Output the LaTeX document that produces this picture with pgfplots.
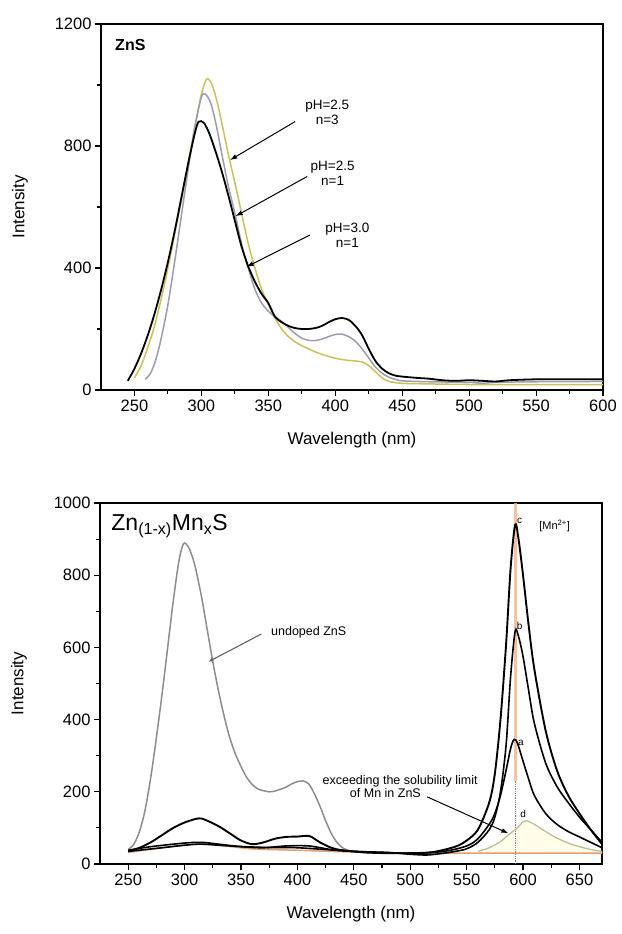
\documentclass[border=0pt]{standalone}
\usepackage{fontspec}
\setmainfont{Liberation Sans}
\usepackage{pgfplots}
\pgfplotsset{compat=1.18}
\usetikzlibrary{arrows.meta}
\definecolor{lavgray}{HTML}{9D9BB0}
\definecolor{olive}{HTML}{CDBF5C}
\definecolor{midgray}{HTML}{8C8C8C}
\definecolor{mnorange}{HTML}{F2B48A}
\definecolor{tan}{HTML}{E0A070}
\definecolor{paled}{HTML}{BDBD90}

\pgfplotsset{
  spec/.style={
    scale only axis, width=502pt,
    axis line style={line width=1.4pt},
    tick align=outside, xtick pos=bottom, ytick pos=left,
    tick style={black, line width=1.1pt},
    major tick length=6pt, minor tick length=4pt,
    minor tick num=1,
    ticklabel style={font=\fontsize{16.5}{18}\selectfont},
    /pgf/number format/assume math mode=true,
    /pgf/number format/1000 sep={},
    xlabel={Wavelength (nm)}, ylabel={Intensity},
    every axis x label/.style={at={(axis description cs:0.5,0)}, yshift=-50pt,
      anchor=center, font=\fontsize{17}{20}\selectfont},
    every axis y label/.style={at={(axis description cs:0,0.5)}, xshift=-81pt,
      rotate=90, anchor=center, font=\fontsize{17}{20}\selectfont},
    clip=false,
  },
}
\tikzset{
  ann/.style={font=\fontsize{13.5}{15}\selectfont, align=center},
  arr/.style={black, line width=1pt, -{Latex[length=7pt,width=5pt]}},
}

\begin{document}
\begin{tikzpicture}
\useasboundingbox (0,0) rectangle (621pt,934pt);

% ---- top: ZnS
\begin{axis}[spec, at={(101pt,544pt)}, anchor=south west, height=366pt,
    xmin=225, xmax=600, ymin=0, ymax=1200,
    xtick={250,300,...,600}, ytick={0,400,800,1200}]

\addplot[olive, line width=1.5pt, smooth] coordinates {
 (250,40)(255,80)(260,140)(265,210)(270,300)(275,400)(280,510)(285,620)(290,740)
 (295,860)(300,970)(304,1020)(308,1000)(312,940)(316,860)(320,775)(325,680)(330,580)
 (335,480)(340,400)(345,330)(350,280)(355,235)(360,200)(365,175)(370,158)(375,145)
 (380,135)(385,125)(390,117)(395,110)(400,104)(405,100)(410,97)(415,95)(420,92)
 (425,80)(430,60)(435,40)(440,28)(450,22)(470,20)(500,18)(550,18)(600,18)};

\addplot[lavgray, line width=1.5pt, smooth] coordinates {
 (258,35)(262,55)(266,100)(270,170)(275,280)(280,420)(285,570)(290,720)(295,860)
 (300,960)(303,970)(307,940)(311,870)(315,780)(320,670)(325,580)(330,480)(335,400)
 (340,330)(345,285)(350,258)(355,240)(360,225)(365,205)(370,185)(375,170)(380,163)
 (385,162)(390,167)(395,175)(400,182)(405,183)(410,175)(415,160)(420,135)(425,105)
 (430,75)(435,55)(440,42)(445,35)(450,30)(470,27)(500,25)(510,22)(520,25)(550,27)(600,28)};

\addplot[black, line width=1.8pt, smooth] coordinates {
 (245,30)(250,70)(255,120)(260,180)(265,250)(270,330)(275,420)(280,520)(285,630)
 (290,740)(295,840)(298,880)(302,875)(306,840)(310,790)(315,720)(320,640)(325,555)
 (330,470)(335,405)(340,355)(345,315)(350,285)(355,240)(360,222)(365,210)(370,203)
 (375,200)(380,200)(385,203)(390,210)(395,222)(400,232)(405,236)(410,230)(415,210)
 (420,180)(425,135)(430,95)(435,70)(440,55)(445,47)(450,44)(460,40)(470,37)(480,32)
 (490,30)(500,32)(510,30)(520,28)(530,32)(550,35)(575,35)(600,35)};

\node[font=\bfseries\fontsize{16}{18}\selectfont, anchor=west] at (axis cs:233,1130) {ZnS};

\node[ann] at (axis cs:394,909) {pH=2.5\\n=3};
\node[ann] at (axis cs:398,711) {pH=2.5\\n=1};
\node[ann] at (axis cs:409,508) {pH=3.0\\n=1};
\draw[arr] (axis cs:370,880) -- (axis cs:321.4,754);
\draw[arr] (axis cs:379,700) -- (axis cs:325.6,570);
\draw[arr] (axis cs:381,508) -- (axis cs:333.8,404);
\end{axis}

% ---- bottom: Zn(1-x)MnxS
\begin{axis}[spec, at={(100pt,70pt)}, anchor=south west, height=361pt,
    xmin=225, xmax=670, ymin=0, ymax=1000,
    xtick={250,300,...,650}, ytick={0,200,...,1000}]

% pale area under d
\addplot[draw=none, fill=yellow!8] coordinates {
 (560,32)(570,45)(580,62)(585,75)(590,88)(595,100)(600,117)(603,120)(610,110)
 (620,90)(630,72)(640,58)(650,48)(660,40)(670,35)(670,30)(560,30)} -- cycle;

% Mn2+ marker line
\addplot[mnorange, line width=3pt, opacity=0.8] coordinates {(593,230)(593,1000)};
\addplot[gray, densely dotted, line width=0.8pt] coordinates {(593,0)(593,230)};

\addplot[midgray, line width=1.5pt, smooth] coordinates {
 (250,40)(255,55)(260,90)(265,150)(270,240)(275,350)(280,470)(285,600)(290,730)
 (295,840)(299,887)(303,880)(307,850)(310,815)(315,740)(320,650)(325,560)(330,480)
 (335,410)(340,350)(345,305)(350,270)(355,240)(360,220)(365,208)(370,203)(375,200)
 (380,202)(385,207)(390,213)(395,222)(400,228)(405,230)(410,222)(415,195)(420,160)
 (425,120)(430,85)(435,60)(440,45)(445,38)(450,35)(460,32)(480,30)(500,30)};

\addplot[tan, line width=1.5pt, smooth] coordinates {
 (250,32)(280,45)(310,55)(330,52)(360,42)(400,38)(450,33)(500,30)(560,30)(620,30)(670,30)};

\addplot[paled, line width=1.3pt, smooth] coordinates {
 (560,35)(570,45)(580,62)(585,75)(590,88)(595,100)(600,117)(603,120)(610,110)
 (620,90)(630,72)(640,58)(650,48)(660,40)(670,35)};

% a
\addplot[black, line width=1.6pt, smooth] coordinates {
 (250,35)(280,45)(300,52)(315,55)(340,50)(370,46)(400,45)(450,35)(500,30)(530,35)
 (550,50)(560,70)(570,110)(575,140)(580,190)(585,260)(589,320)(592,345)(595,335)
 (600,285)(605,235)(610,190)(620,140)(630,110)(640,90)(650,75)(660,60)(670,45)};

% b
\addplot[black, line width=1.6pt, smooth] coordinates {
 (250,38)(270,48)(300,58)(315,60)(330,55)(350,48)(370,45)(390,50)(410,50)(430,40)
 (450,35)(480,32)(500,27)(515,25)(530,30)(540,35)(550,42)(560,60)(570,95)(575,130)
 (580,200)(585,330)(589,520)(593,645)(596,630)(600,575)(605,480)(610,390)(620,280)
 (630,215)(640,170)(650,130)(660,95)(670,60)};

% c
\addplot[black, line width=1.9pt, smooth] coordinates {
 (250,35)(260,45)(270,60)(280,80)(290,100)(300,115)(310,125)(315,126)(320,120)
 (330,105)(340,85)(350,65)(360,55)(370,60)(380,70)(390,75)(400,76)(410,78)(415,70)
 (420,60)(430,45)(440,38)(460,32)(480,30)(500,30)(520,33)(540,48)(550,65)(560,95)
 (570,170)(575,250)(580,400)(585,610)(589,820)(593,940)(596,900)(600,800)(605,660)
 (610,540)(620,370)(630,260)(640,190)(650,140)(660,95)(670,55)};

\node[font=\fontsize{23}{26}\selectfont, anchor=west] at (axis cs:232,936)
  {Zn\textsubscript{(1-x)}Mn\textsubscript{x}S};
\node[font=\fontsize{11}{13}\selectfont] at (axis cs:628,937) {[Mn\textsuperscript{2+}]};
\node[font=\fontsize{10}{12}\selectfont] at (axis cs:597,950) {c};
\node[font=\fontsize{10}{12}\selectfont] at (axis cs:597,660) {b};
\node[font=\fontsize{10}{12}\selectfont] at (axis cs:598,335) {a};
\node[font=\fontsize{10}{12}\selectfont] at (axis cs:600,140) {d};

\node[font=\fontsize{12.5}{14}\selectfont] at (axis cs:410,643) {undoped ZnS};
\draw[midgray!70!black, line width=1.1pt, -{Latex[length=5pt,width=4pt]}] (axis cs:368,637) -- (axis cs:321,560);

\node[font=\fontsize{12.5}{14}\selectfont] at (axis cs:491,228) {exceeding the solubility limit};
\node[font=\fontsize{12.5}{14}\selectfont] at (axis cs:478,197) {of Mn in ZnS};
\draw[arr] (axis cs:515,186) -- (axis cs:587,85);
\end{axis}
\end{tikzpicture}
\end{document}
